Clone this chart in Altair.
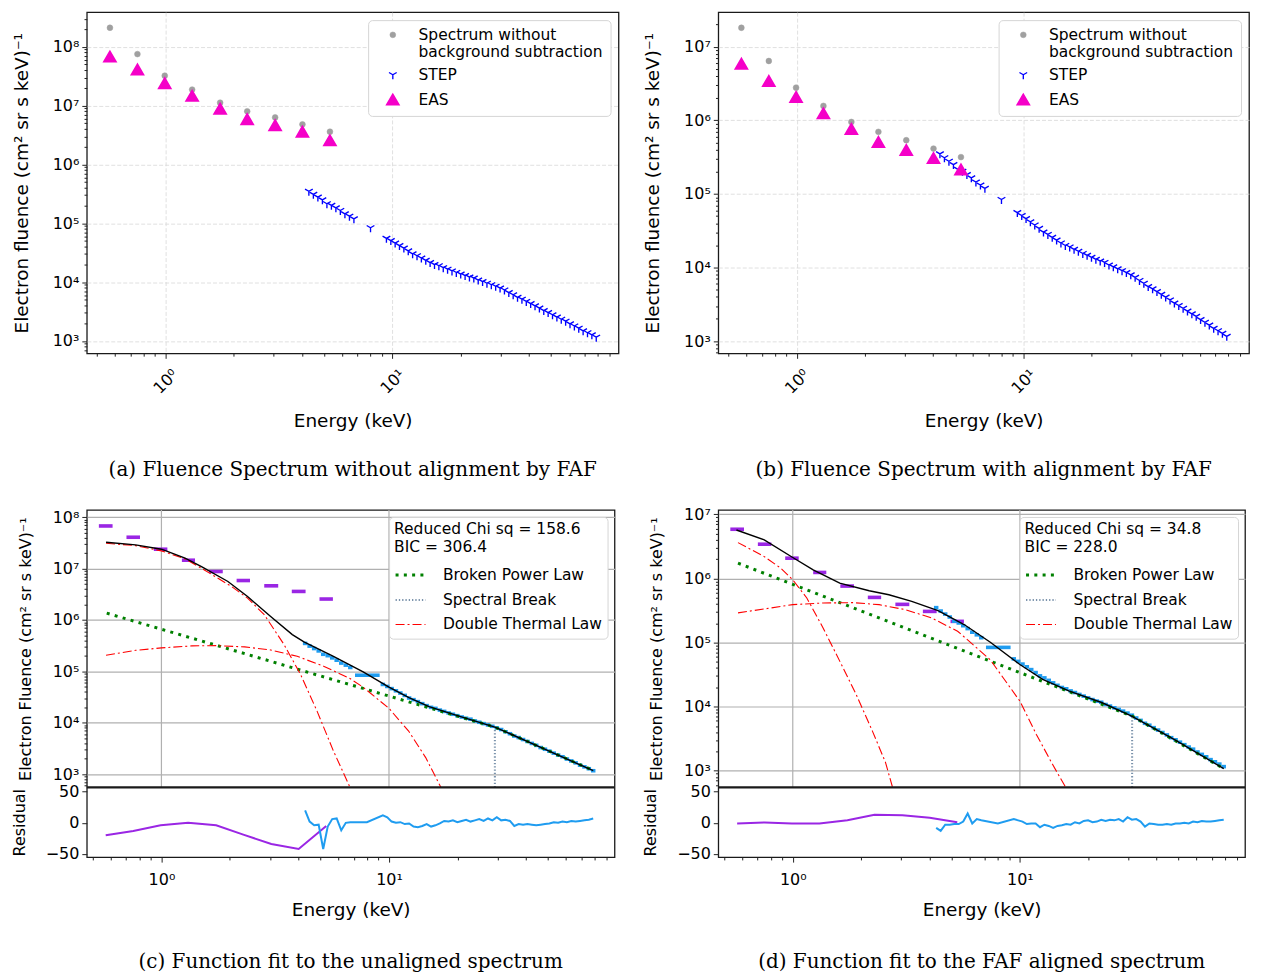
import altair as alt
import pandas as pd

FONT = "DejaVu Sans"
SERIF = "DejaVu Serif"

# ---------------- data ----------------
EAS_E = [0.569, 0.752, 0.992, 1.31, 1.74, 2.29, 3.04, 4.01, 5.30]
EAS_LO = [0.531, 0.702, 0.926, 1.23, 1.62, 2.14, 2.83, 3.74, 4.95]
EAS_HI = [0.610, 0.805, 1.062, 1.405, 1.86, 2.45, 3.26, 4.30, 5.67]

EAS_UNALIGNED = [6.78e7, 4.09e7, 2.39e7, 1.46e7, 8.8e6, 5.87e6, 4.63e6, 3.6e6, 2.56e6]
RAW_UNALIGNED = [2.1e8, 7.5e7, 3.22e7, 1.87e7, 1.12e7, 8.0e6, 6.3e6, 4.8e6, 3.6e6]
EAS_ALIGNED = [5.85e6, 3.42e6, 2.07e6, 1.24e6, 7.6e5, 5.06e5, 3.94e5, 3.06e5, 2.14e5]
RAW_ALIGNED = [1.81e7, 6.4e6, 2.78e6, 1.57e6, 9.5e5, 6.97e5, 5.37e5, 4.13e5, 3.16e5]

STEP_E = [4.28, 4.48, 4.69, 4.91, 5.14, 5.38, 5.63, 5.89, 6.17, 6.46, 6.76,
          8.0,
          9.4, 9.83, 10.27, 10.73, 11.22, 11.73, 12.26, 12.82, 13.4, 14.01,
          14.64, 15.31, 16.0, 16.73, 17.48, 18.28, 19.1, 19.97, 20.88, 21.82,
          22.81, 23.85, 24.93, 26.06, 27.24, 28.47, 29.77, 31.12, 32.53, 34.0,
          35.54, 37.16, 38.84, 40.6, 42.44, 44.37, 46.38, 48.48, 50.68, 52.98,
          55.38, 57.89, 60.52, 63.26, 66.13, 69.13, 72.27, 75.54, 78.97]
STEP_F = [3.50e5, 3.10e5, 2.78e5, 2.50e5, 2.15e5, 2.02e5, 1.83e5, 1.65e5, 1.45e5, 1.32e5, 1.19e5,
          8.4e4,
          5.56e4, 5.08e4, 4.61e4, 4.18e4, 3.78e4, 3.40e4, 3.02e4, 2.81e4, 2.57e4, 2.35e4,
          2.15e4, 1.99e4, 1.90e4, 1.76e4, 1.66e4, 1.55e4, 1.46e4, 1.37e4, 1.29e4, 1.22e4,
          1.17e4, 1.08e4, 1.02e4, 9590, 9040, 8510, 7930, 7350, 6650, 6100,
          5500, 5130, 4700, 4310, 3950, 3620, 3280, 3040, 2790, 2550,
          2340, 2170, 1960, 1800, 1650, 1490, 1380, 1270, 1160]
STEP_WIDE_BIN = {8.0: (7.09, 9.10)}
STEP_BIN_FACTOR = 1.023

# residuals
RES_C_EAS = [-20, -13, -4, 0, -4, -19, -34, -42, -5]
RES_C_STEP = [20, 2, -4, -3, -42, -6, 6, 7, -12, 0, 1,
              1,
              12, 9, 2, 0, 1, -2, -1, -6, -7, -5, -2, -6, -4, -1, 3, 2, 4, 1, 3, 5,
              2, 4, 6, 3, 7, 4, 9, 4, 5, 3, -5, -2, -3, -2, -3, -4, -3, -2, -1, 1,
              0, 2, 1, 3, 2, 3, 4, 5, 7]
RES_D_EAS = [-1, 0.5, -1, -1, 4, 13, 12, 8, 1]
RES_D_STEP = [-8, -13, -3, -3, -2, -2, 2, 15, -1, 6, 4,
              -1,
              6, 4, 2, -2, -1, -1, -7, -3, -5, -8, -5, -4, -2, -3, 1, -1, 3, 4, 1, 2,
              5, 3, 5, 4, 6, 2, 9, 5, 6, 2, -6, -1, -2, -3, -3, -2, -3, -1, -1, 0,
              -1, 2, 1, 3, 2, 2, 3, 4, 5]

# fit curves, panel (c)
TOT_C_E = [0.571, 0.77, 1.0, 1.27, 1.5, 1.96, 2.39, 3.02, 3.76, 4.23, 5.7, 7.7, 10, 12.3, 15, 20.3, 29.2, 46.7, 79]
TOT_C_F = [3.27e7, 2.90e7, 2.39e7, 1.60e7, 1.10e7, 5.62e6, 2.87e6, 1.17e6, 5.19e5, 3.74e5, 1.96e5,
           9.77e4, 4.91e4, 3.05e4, 2.05e4, 1.34e4, 8.22e3, 3.27e3, 1.16e3]
COOL_C_E = [0.571, 0.77, 1.0, 1.27, 1.5, 2.03, 2.39, 2.83, 3.46, 4.09, 4.83, 5.70, 6.74]
COOL_C_F = [3.13e7, 2.81e7, 2.22e7, 1.55e7, 1.02e7, 4.5e6, 2.67e6, 1.27e6, 3.31e5, 8.67e4, 1.68e4, 2.81e3, 552]
HOT_C_E = [0.571, 0.771, 1.0, 1.36, 1.77, 2.32, 3.02, 3.95, 5.16, 6.74, 7.70, 10, 12.2, 14.5, 16.9]
HOT_C_F = [2.06e5, 2.57e5, 2.86e5, 3.13e5, 3.17e5, 2.99e5, 2.61e5, 1.96e5, 1.26e5, 7.24e4, 4.9e4,
           1.9e4, 6.87e3, 2.09e3, 552]
BPL_C_E = [0.575, 1.0, 1.77, 3.02, 4.83, 7.7, 10, 15, 29.2, 46.7, 79]
BPL_C_F = [1.36e6, 6.61e5, 3.15e5, 1.57e5, 8.5e4, 4.65e4, 3.3e4, 1.95e4, 8.2e3, 3.27e3, 1.17e3]
BREAK_C = (29.2, 8.2e3)

# fit curves, panel (d)
TOT_D_E = [0.565, 0.749, 1.0, 1.23, 1.61, 2.17, 2.65, 3.34, 4.36, 5.68, 7.41, 10, 12.6, 16.5, 22.9, 30.9, 47.5, 79]
TOT_D_F = [5.70e6, 3.99e6, 2.12e6, 1.36e6, 8.47e5, 6.43e5, 5.57e5, 4.39e5, 3.14e5, 1.91e5, 1.01e5,
           4.55e4, 2.66e4, 1.75e4, 1.16e4, 7.16e3, 3.11e3, 1.08e3]
COOL_D_E = [0.574, 0.749, 0.885, 1.0, 1.153, 1.36, 1.61, 1.90, 2.24, 2.56, 2.75]
COOL_D_F = [3.62e6, 2.19e6, 1.45e6, 9.53e5, 4.95e5, 1.69e5, 5.13e4, 1.56e4, 4.19e3, 1.35e3, 552]
HOT_D_E = [0.574, 1.0, 1.36, 1.84, 2.40, 3.13, 4.08, 5.32, 6.3, 7.41, 10, 11.8, 13.9, 15.9]
HOT_D_F = [2.9e5, 3.9e5, 4.14e5, 4.19e5, 3.9e5, 3.26e5, 2.42e5, 1.5e5, 8.91e4, 5.37e4, 1.22e4, 3.72e3, 1.27e3, 552]
BPL_D_E = [0.574, 1.0, 1.72, 2.92, 4.66, 7.17, 10, 15.4, 31.2, 47.5, 79]
BPL_D_F = [1.73e6, 8.07e5, 3.83e5, 1.85e5, 9.73e4, 5.37e4, 3.4e4, 1.88e4, 7.11e3, 3.04e3, 1.08e3]
BREAK_D = (31.2, 7.11e3)

# ---------------- styling ----------------
S_RAW = "Spectrum without background subtraction"
S_STEP = "STEP"
S_EAS = "EAS"
TRI = "M0,0L0,1M0,0L-0.866,-0.5M0,0L0.866,-0.5"
GRAY, BLUE, MAGENTA = "#a0a0a0", "#0000ff", "#f500c8"
PURPLE, LBLUE = "#9a26e4", "#1f9cf0"
GREEN, SLATE, RED = "#008000", "#7a92ab", "#ff0000"
SER = ["Broken Power Law", "Spectral Break", "Double Thermal Law"]

MAJOR = "abs(log(datum.value)/LN10 - round(log(datum.value)/LN10)) < 0.001"
SUP = "substring('⁰¹²³⁴⁵⁶⁷⁸⁹', round(log(datum.value)/LN10), round(log(datum.value)/LN10) + 1)"
LOGLABEL = f"{MAJOR} ? '10' + {SUP} : ''"


def log_ticks(lo, hi):
    out = []
    for e in range(-2, 10):
        for m in range(1, 10):
            v = float(m) * (10.0 ** e)
            if lo <= v <= hi:
                out.append(v)
    return out


def log_axis(lo, hi, title, **kw):
    props = dict(values=log_ticks(lo, hi), labelExpr=LOGLABEL, labelOverlap=False,
                 tickSize={"condition": {"test": MAJOR, "value": 5}, "value": 2.8},
                 gridOpacity={"condition": {"test": MAJOR, "value": 1}, "value": 0},
                 title=title, labelFontSize=16, labelPadding=3)
    props.update(kw)
    return alt.Axis(**props)


def spectrum_panel(eas_vals, raw_vals, ydom, width, caption):
    rows = []
    k = 0
    for e, f in zip(EAS_E, raw_vals):
        rows.append({"E": e, "F": f, "series": S_RAW, "k": k}); k += 1
    for e, f in zip(STEP_E, STEP_F):
        rows.append({"E": e, "F": f, "series": S_STEP, "k": k}); k += 1
    for e, f in zip(EAS_E, eas_vals):
        rows.append({"E": e, "F": f, "series": S_EAS, "k": k}); k += 1
    df = pd.DataFrame(rows)
    dom = [S_RAW, S_STEP, S_EAS]
    xa = log_axis(0.45, 99, "Energy (keV)", labelAngle=315, labelAlign="center",
                  labelBaseline="middle", labelPadding=23, titleFontSize=18.5, titlePadding=15,
                  grid=True, gridColor="#d8d8d8", gridDash=[4, 2], gridWidth=0.8)
    ya = log_axis(ydom[0], ydom[1], "Electron fluence (cm² sr s keV)⁻¹", titleFontSize=18.5,
                  titlePadding=21, grid=True, gridColor="#d8d8d8", gridDash=[4, 2], gridWidth=0.8)
    leg = alt.Legend(title=None, orient="top-right", offset=8, padding=7, fillColor="white",
                     strokeColor="#d5d5d5", cornerRadius=4, labelFontSize=15.5, labelFont=FONT,
                     labelColor="black", rowPadding=6, symbolOffset=10, labelOffset=18,
                     labelLimit=400,
                     labelExpr="datum.label == '" + S_RAW + "' ? ['Spectrum without', 'background subtraction'] : datum.label")
    ch = alt.Chart(df).mark_point(opacity=1).encode(
        x=alt.X("E:Q", scale=alt.Scale(type="log", domain=[0.45, 99], nice=False), axis=xa),
        y=alt.Y("F:Q", scale=alt.Scale(type="log", domain=ydom, nice=False), axis=ya),
        fill=alt.Fill("series:N", scale=alt.Scale(domain=dom, range=[GRAY, BLUE, MAGENTA]), legend=leg),
        stroke=alt.Stroke("series:N", scale=alt.Scale(domain=dom, range=[GRAY, BLUE, MAGENTA]), legend=leg),
        shape=alt.Shape("series:N", scale=alt.Scale(domain=dom, range=["circle", TRI, "triangle-up"]), legend=leg),
        size=alt.Size("series:N", scale=alt.Scale(domain=dom, range=[34, 125, 115]), legend=leg),
        strokeWidth=alt.StrokeWidth("series:N", scale=alt.Scale(domain=dom, range=[0.5, 2.2, 0.5]), legend=leg),
        order=alt.Order("k:Q"),
    ).properties(width=width, height=342,
                 title=alt.TitleParams(text=caption, orient="bottom", offset=30))
    return ch


def fit_panel(eas_vals, res_eas, res_step, tot, cool, hot, bpl, brk, ydom, width, chi, bic, caption):
    xs = alt.Scale(type="log", domain=[0.47, 98], nice=False)
    ys = alt.Scale(type="log", domain=ydom, range=[278, 0], nice=False)
    rs = alt.Scale(domain=[-55, 57], range=[348, 278], nice=False, zero=False)
    xax = log_axis(0.47, 98, "Energy (keV)", grid=False, labelPadding=9,
                   titleFontSize=18.5, titlePadding=14)
    yax = log_axis(ydom[0], ydom[1], "Electron Fluence (cm² sr s keV)⁻¹", orient="left",
                   titleFontSize=16, titlePadding=19, grid=True, gridColor="#b0b0b0", gridWidth=1.2)
    rax = alt.Axis(orient="left", values=[-50, 0, 50], title="Residual", labelFontSize=16,
                   titleFontSize=16, titlePadding=18, grid=False, tickSize=5, labelPadding=3,
                   labelExpr="datum.value < 0 ? '\u2212' + abs(datum.value) : '' + datum.value")

    def X(f):
        return alt.X(f, type="quantitative", scale=xs, axis=xax)

    def Y(f):
        return alt.Y(f, type="quantitative", scale=ys, axis=yax)

    def R(f):
        return alt.Y(f, type="quantitative", scale=rs, axis=rax)

    grid_df = pd.DataFrame({"E": [1.0, 10.0], "lo": [ydom[0]] * 2, "hi": [ydom[1]] * 2})
    eas_df = pd.DataFrame({"lo": EAS_LO, "hi": EAS_HI, "F": eas_vals})
    s_lo = [STEP_WIDE_BIN.get(e, (e / STEP_BIN_FACTOR, e * STEP_BIN_FACTOR))[0] for e in STEP_E]
    s_hi = [STEP_WIDE_BIN.get(e, (e / STEP_BIN_FACTOR, e * STEP_BIN_FACTOR))[1] for e in STEP_E]
    step_df = pd.DataFrame({"lo": s_lo, "hi": s_hi, "F": STEP_F})
    comp_rows = []
    for e, f in zip(*bpl):
        comp_rows.append({"E": e, "F": f, "series": SER[0], "part": "bpl"})
    comp_rows.append({"E": brk[0], "F": ydom[0], "series": SER[1], "part": "brk"})
    comp_rows.append({"E": brk[0], "F": brk[1], "series": SER[1], "part": "brk"})
    for e, f in zip(*cool):
        comp_rows.append({"E": e, "F": f, "series": SER[2], "part": "cool"})
    for e, f in zip(*hot):
        comp_rows.append({"E": e, "F": f, "series": SER[2], "part": "hot"})
    comp_df = pd.DataFrame(comp_rows)
    tot_df = pd.DataFrame({"E": tot[0], "F": tot[1]})
    rese_df = pd.DataFrame({"E": EAS_E, "R": res_eas})
    ress_df = pd.DataFrame({"E": STEP_E, "R": res_step})

    leg = alt.Legend(title=["\u00a0Reduced Chi sq = " + chi, "\u00a0BIC = " + bic],
                     orient="top-right", offset=7, padding=5, fillColor="white",
                     strokeColor="#d5d5d5", cornerRadius=4, titleFontSize=15.5, titleFont=FONT,
                     titleFontWeight="normal", titleColor="black", titleLineHeight=18.3,
                     titlePadding=3, titleLimit=400, labelFontSize=15.5, labelFont=FONT,
                     labelColor="black", symbolType="stroke", symbolSize=900, labelOffset=16,
                     rowPadding=0, labelLimit=400)

    gridl = alt.Chart(grid_df).mark_rule(color="#b0b0b0", strokeWidth=1.2).encode(
        x=X("E"), y=Y("lo"), y2=alt.Y2("hi"))
    eas_b = alt.Chart(eas_df).mark_rule(color=PURPLE, strokeWidth=3.6).encode(
        x=X("lo"), x2=alt.X2("hi"), y=Y("F"))
    step_b = alt.Chart(step_df).mark_rule(color=LBLUE, strokeWidth=3.6).encode(
        x=X("lo"), x2=alt.X2("hi"), y=Y("F"))
    comps = alt.Chart(comp_df).mark_line().encode(
        x=X("E"), y=Y("F"),
        color=alt.Color("series:N", scale=alt.Scale(domain=SER, range=[GREEN, SLATE, RED]), legend=leg),
        strokeDash=alt.StrokeDash("series:N", scale=alt.Scale(domain=SER, range=[[3, 5.3], [1.3, 2], [9, 3, 2, 3]]), legend=leg),
        strokeWidth=alt.StrokeWidth("series:N", scale=alt.Scale(domain=SER, range=[3, 1.1, 1.4]), legend=leg),
        detail="part:N")
    total = alt.Chart(tot_df).mark_line(color="black", strokeWidth=1.4).encode(x=X("E"), y=Y("F"))
    main = alt.LayerChart(layer=[gridl, eas_b, step_b, comps, total])

    r1 = alt.Chart(rese_df).mark_line(color=PURPLE, strokeWidth=2).encode(x=X("E"), y=R("R"))
    r2 = alt.Chart(ress_df).mark_line(color=LBLUE, strokeWidth=2).encode(x=X("E"), y=R("R"))
    sep = alt.Chart(pd.DataFrame({"a": [0]})).mark_rule(color="#1a1a1a", strokeWidth=2.2).encode(
        y=alt.YDatum(57, type="quantitative", scale=rs, axis=rax))
    resid = alt.LayerChart(layer=[r1, r2, sep])

    return alt.LayerChart(layer=[main, resid]).resolve_scale(y="independent").properties(
        width=width, height=348,
        title=alt.TitleParams(text=caption, orient="bottom", offset=33))


pa = spectrum_panel(EAS_UNALIGNED, RAW_UNALIGNED, [617, 3.87e8], 533,
                    "(a) Fluence Spectrum without alignment by FAF")
pb = spectrum_panel(EAS_ALIGNED, RAW_ALIGNED, [681, 2.95e7], 532,
                    "(b) Fluence Spectrum with alignment by FAF")
pc = fit_panel(EAS_UNALIGNED, RES_C_EAS, RES_C_STEP, (TOT_C_E, TOT_C_F), (COOL_C_E, COOL_C_F),
               (HOT_C_E, HOT_C_F), (BPL_C_E, BPL_C_F), BREAK_C, [552, 1.39e8], 529,
               "158.6", "306.4", "(c) Function fit to the unaligned spectrum")
pd_ = fit_panel(EAS_ALIGNED, RES_D_EAS, RES_D_STEP, (TOT_D_E, TOT_D_F), (COOL_D_E, COOL_D_F),
                (HOT_D_E, HOT_D_F), (BPL_D_E, BPL_D_F), BREAK_D, [552, 1.17e7], 528,
                "34.8", "228.0", "(d) Function fit to the FAF aligned spectrum")

chart = alt.concat(pa, pb, pc, pd_, columns=2, spacing={"row": 157, "column": 100},
                   bounds="flush").resolve_scale(
    color="independent", fill="independent", stroke="independent", shape="independent",
    size="independent", strokeWidth="independent", strokeDash="independent"
).resolve_legend(
    color="independent", fill="independent", stroke="independent", shape="independent",
    size="independent", strokeWidth="independent", strokeDash="independent"
).properties(
    padding={"left": 2, "top": 0, "right": 4, "bottom": 2}
).configure_view(stroke="#1a1a1a", strokeWidth=1.3).configure_axis(
    labelFont=FONT, titleFont=FONT, labelColor="black", titleColor="black",
    tickColor="#222222", domain=False, titleFontWeight="normal"
).configure_title(font=SERIF, fontSize=20, fontWeight="normal", color="black", anchor="middle")

chart.save("out.html", embed_options={"renderer": "svg", "actions": False})
